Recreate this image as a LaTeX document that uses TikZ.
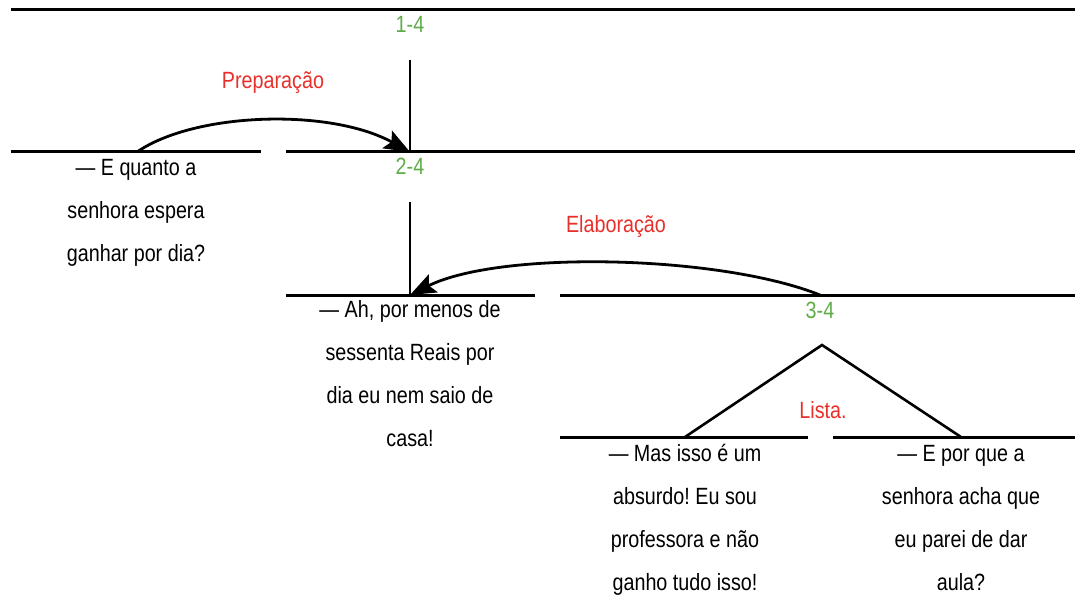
\documentclass[tikz,border=0pt]{standalone}
\usepackage{fontspec}
\setmainfont{Liberation Sans}[FakeStretch=0.84]
\usetikzlibrary{arrows.meta}
\definecolor{lblgreen}{RGB}{94,172,72}
\definecolor{lblred}{RGB}{232,48,42}
\frenchspacing
\begin{document}
\begin{tikzpicture}[x=1pt,y=-1pt,
  hline/.style={line width=3pt},
  vline/.style={line width=2.2pt},
  tri/.style={line width=2.6pt,line join=miter},
  relarc/.style={line width=2.8pt,-{Stealth[length=26pt,width=20pt,inset=5pt]}},
  txt/.style={font=\fontsize{23.5}{43}\selectfont,align=center,inner sep=0pt,anchor=north},
  num/.style={text=lblgreen,font=\fontsize{23.5}{28}\selectfont,inner sep=0pt,anchor=base},
  rel/.style={text=lblred,font=\fontsize{23.5}{28}\selectfont,inner sep=0pt,anchor=base}]
\useasboundingbox (0,0) rectangle (1075,596);

% coordinates
\coordinate (top0) at (11,10);   \coordinate (top1) at (1075,10);
\coordinate (r2a0) at (11,152);  \coordinate (r2a1) at (261,152);
\coordinate (r2b0) at (286,152); \coordinate (r2b1) at (1075,152);
\coordinate (r3a0) at (286,295); \coordinate (r3a1) at (535,295);
\coordinate (r3b0) at (560,295); \coordinate (r3b1) at (1075,295);
\coordinate (r4a0) at (560,437); \coordinate (r4a1) at (808,437);
\coordinate (r4b0) at (833,437); \coordinate (r4b1) at (1075,437);
\coordinate (v1top) at (410,60);  \coordinate (v1bot) at (410,152);
\coordinate (v2top) at (410,202); \coordinate (v2bot) at (410,295);
\coordinate (apex) at (822,345);
\coordinate (footL) at (685,437);
\coordinate (footR) at (961,437);
\coordinate (prepS) at (137,152);
\coordinate (elabS) at (820,295);

% lines
\draw[hline] (top0) -- (top1);
\draw[hline] (r2a0) -- (r2a1);
\draw[hline] (r2b0) -- (r2b1);
\draw[hline] (r3a0) -- (r3a1);
\draw[hline] (r3b0) -- (r3b1);
\draw[hline] (r4a0) -- (r4a1);
\draw[hline] (r4b0) -- (r4b1);
\draw[vline] (v1top) -- (v1bot);
\draw[vline] (v2top) -- (v2bot);
\draw[tri] (footL) -- (apex) -- (footR);

% relation arrows
\draw[relarc] (prepS) .. controls (195,112) and (330,108) .. (v1bot);
\draw[relarc] (elabS) .. controls (720,255) and (500,250) .. (v2bot);

% labels
\node[num] (n14) at (410,33) {1-4};
\node[num] (n24) at (410,175) {2-4};
\node[num] (n34) at (820,318) {3-4};
\node[rel] (prep) at (273,89) {Preparação};
\node[rel] (elab) at (616,232) {Elaboração};
\node[rel] (lista) at (823,418) {Lista.};

% texts
\node[txt] (t1) at (136,145.6) {\strut— E quanto a\\senhora espera\\ganhar por dia?};
\node[txt] (t2) at (410,286.9) {\strut— Ah, por menos de\\sessenta Reais por\\dia eu nem saio de\\casa!};
\node[txt] (t3) at (685,430.9) {\strut— Mas isso é um\\absurdo! Eu sou\\professora e não\\ganho tudo isso!};
\node[txt] (t4) at (961,430.9) {\strut— E por que a\\senhora acha que\\eu parei de dar\\aula?};
\end{tikzpicture}
\end{document}
